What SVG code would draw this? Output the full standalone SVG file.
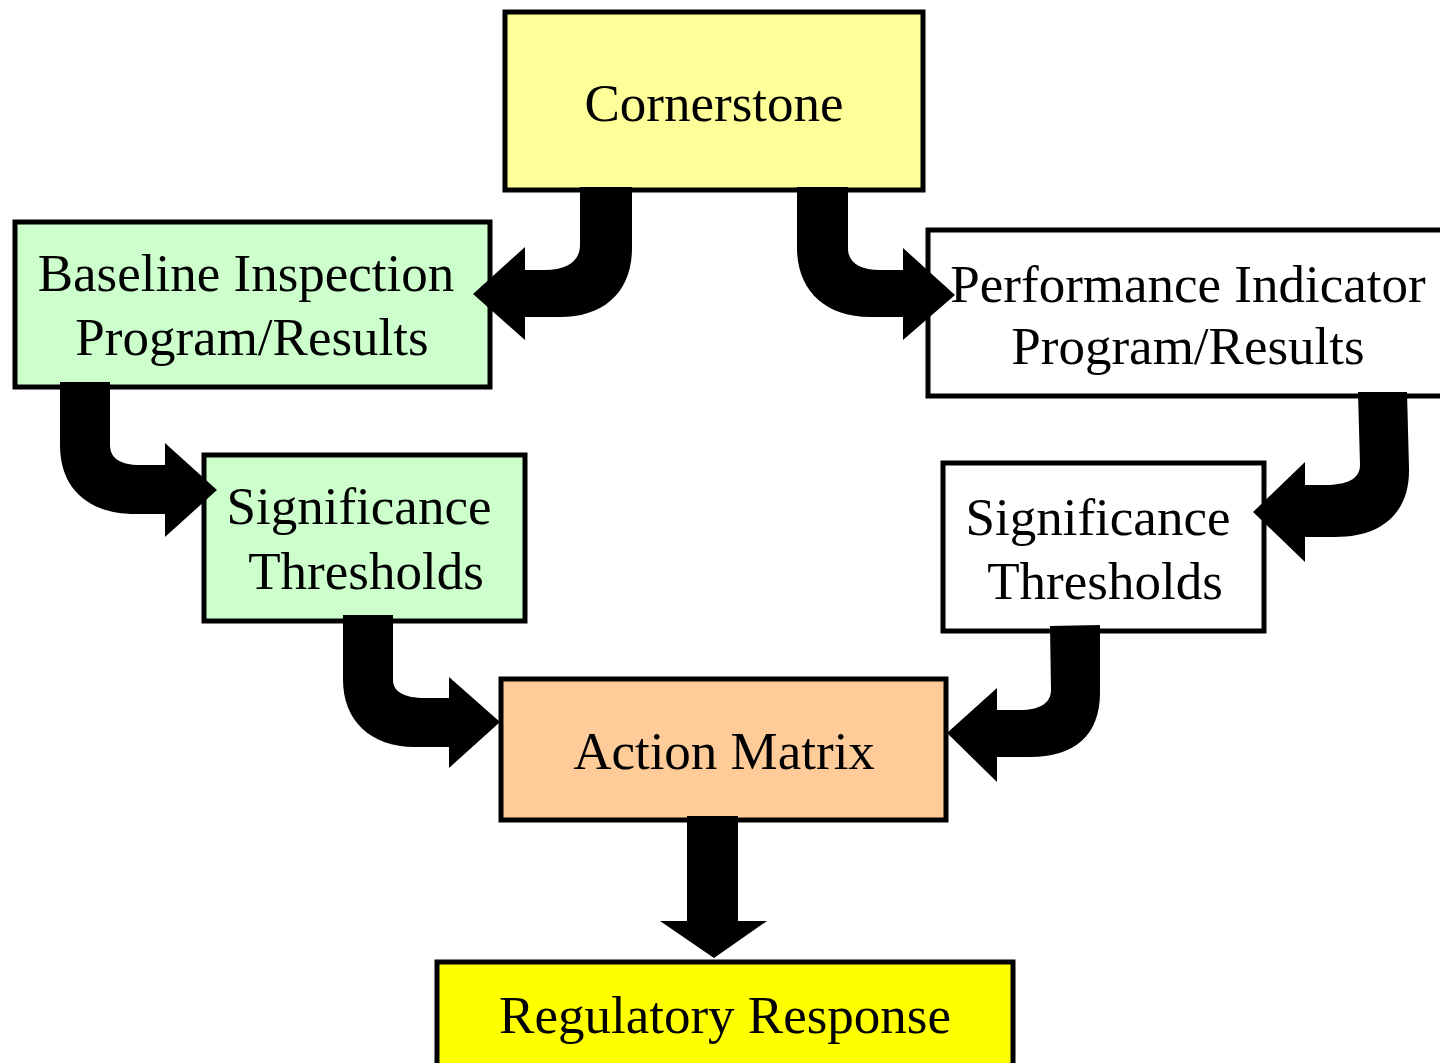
<svg xmlns="http://www.w3.org/2000/svg" width="1440" height="1063" viewBox="0 0 1440 1063">
<style>
.box{stroke:#000;stroke-width:5}
.t{font-family:"Liberation Serif","Times New Roman",serif;font-size:53px;fill:#000;text-anchor:middle}
.arr{fill:#000;stroke:none}
</style>
<rect width="1440" height="1063" fill="#fff"/>
<g id="cornerstone">
<rect class="box" x="505" y="12" width="418" height="178" fill="#FFFF99"/>
<text class="t" x="714" y="121">Cornerstone</text>
</g>
<g id="baseline">
<rect class="box" x="15" y="222" width="475" height="165" fill="#CCFFCC"/>
<text class="t" x="246" y="291">Baseline Inspection</text>
<text class="t" x="252" y="355">Program/Results</text>
</g>
<g id="performance">
<rect class="box" x="928" y="230" width="520" height="166" fill="#FFFFFF"/>
<text class="t" x="1188" y="302">Performance Indicator</text>
<text class="t" x="1188" y="364">Program/Results</text>
</g>
<g id="sig-left">
<rect class="box" x="204" y="455" width="321" height="166" fill="#CCFFCC"/>
<text class="t" x="359" y="524">Significance</text>
<text class="t" x="366" y="589">Thresholds</text>
</g>
<g id="sig-right">
<rect class="box" x="943" y="463" width="321" height="168" fill="#FFFFFF"/>
<text class="t" x="1098" y="535">Significance</text>
<text class="t" x="1105" y="599">Thresholds</text>
</g>
<g id="action">
<rect class="box" x="501" y="679" width="445" height="141" fill="#FFCC99"/>
<text class="t" x="724" y="769">Action Matrix</text>
</g>
<g id="regulatory">
<rect class="box" x="437" y="962" width="576" height="110" fill="#FFFF00"/>
<text class="t" x="725" y="1033">Regulatory Response</text>
</g>
<g id="connectors">
<path class="arr" d="M580,187 L580,245 C580,262 566,270 545,270 L525,270 L525,247 L473,294 L525,340 L525,317 L560,317 C604,317 632,292 632,248 L632,187 Z"/>
<path class="arr" d="M848,187 L848,248 C848,263 860,270 880,270 L903,270 L903,248 L955,295 L903,340 L903,317 L870,317 C825,317 797,290 797,248 L797,187 Z"/>
<path class="arr" d="M110,382 L110,445 C110,458 120,465 140,465 L165,465 L165,443 L217,490 L165,537 L165,514 L135,514 C90,514 60,490 60,445 L60,382 Z"/>
<path class="arr" d="M1358,392 L1360,465 C1360,479 1347,485 1325,485 L1305,485 L1305,462 L1253,512 L1305,562 L1305,537 L1335,537 C1385,537 1410,510 1409,468 L1407,392 Z"/>
<path class="arr" d="M393,615 L393,680 C393,692 405,698 425,698 L449,698 L449,677 L500,722 L449,768 L449,747 L415,747 C370,747 343,720 343,680 L343,615 Z"/>
<path class="arr" d="M1050,626 L1051,690 C1051,703 1040,710 1020,710 L997,710 L997,688 L947,733 L997,782 L997,757 L1030,757 C1075,757 1101,735 1100,690 L1100,625 Z"/>
<path class="arr" d="M687,816 L738,816 L738,921 L767,921 L714,958 L660,921 L687,921 Z"/>
</g>
</svg>
